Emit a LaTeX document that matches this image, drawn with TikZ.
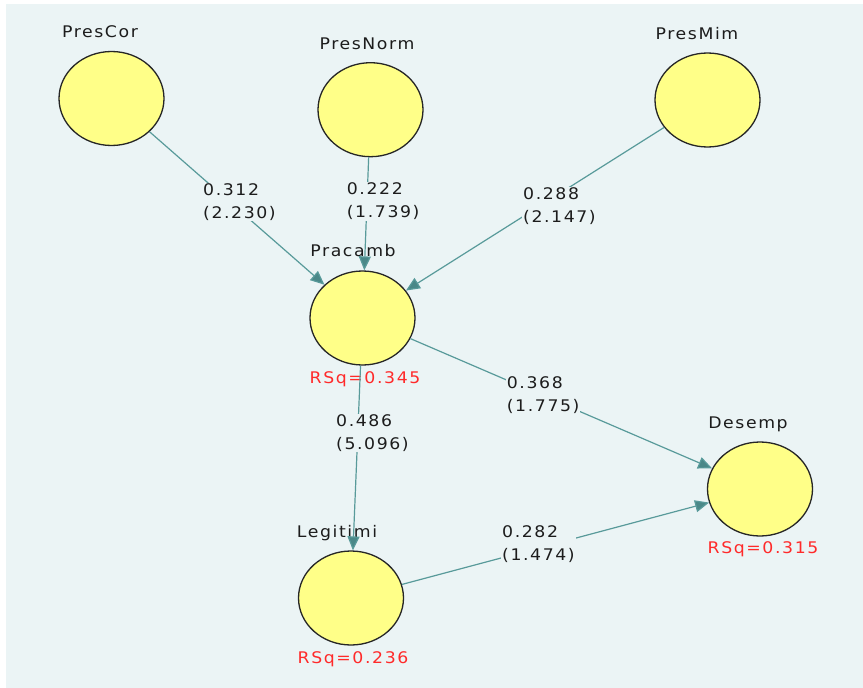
\documentclass[tikz,border=0pt]{standalone}
\usepackage{fontspec}
\setmainfont{DejaVu Sans}[FakeStretch=1.08,LetterSpace=10]
\usetikzlibrary{shapes.geometric,arrows.meta}
\definecolor{bgc}{HTML}{EBF4F5}
\definecolor{circfill}{HTML}{FFFF88}
\definecolor{edgec}{HTML}{589A9A}
\definecolor{tipc}{HTML}{4A8888}
\definecolor{rsqc}{HTML}{FF2A2A}
\definecolor{txtc}{HTML}{1C1C1C}
\begin{document}
\begin{tikzpicture}[x=1pt,y=-1pt,
  latent/.style={ellipse,draw=black!85,fill=circfill,line width=1.3pt,minimum width=105pt,minimum height=94pt,inner sep=0pt},
  lvname/.style={text=txtc,font=\fontsize{16}{23}\selectfont,inner sep=0pt,anchor=base},
  rsq/.style={text=rsqc,font=\fontsize{16}{23}\selectfont,inner sep=0pt,anchor=base},
  pathedge/.style={draw=edgec,line width=1.2pt,-{Triangle[length=14pt,width=12pt,fill=tipc]}},
  coef/.style={text=txtc,font=\fontsize{16}{23}\selectfont,align=left,anchor=west,fill=bgc,inner sep=1pt}]
\useasboundingbox (0,0) rectangle (863,688);
\fill[white] (0,0) rectangle (863,688);
\fill[bgc] (6,4) rectangle (863,688);

% latent variables
\node[latent] (cor) at (111.5,98.5) {};
\node[latent] (norm) at (370.5,109.7) {};
\node[latent] (mim) at (707.5,100) {};
\node[latent] (prac) at (362.5,318) {};
\node[latent] (des) at (760,489) {};
\node[latent] (leg) at (351,598) {};

% names
\node[lvname] (corlab) at (100,37) {PresCor};
\node[lvname] (normlab) at (367,49) {PresNorm};
\node[lvname] (mimlab) at (697,39) {PresMim};
\node[lvname] (praclab) at (353,256) {Pracamb};
\node[lvname] (deslab) at (748,428) {Desemp};
\node[lvname] (leglab) at (337,537) {Legitimi};

% R squared
\node[rsq] (pracrsq) at (365,383) {RSq=0.345};
\node[rsq] (desrsq) at (763,553) {RSq=0.315};
\node[rsq] (legrsq) at (353,663) {RSq=0.236};

% paths
\draw[pathedge] (cor) -- (prac);
\draw[pathedge] (norm) -- (prac);
\draw[pathedge] (mim) -- (prac);
\draw[pathedge] (prac) -- (des);
\draw[pathedge] (prac) -- (leg);
\draw[pathedge] (leg) -- (des);

% coefficients
\node[coef] (c1) at (202,202) {0.312\\(2.230)};
\node[coef] (c2) at (345.7,201.5) {0.222\\(1.739)};
\node[coef] (c3) at (522,206.5) {0.288\\(2.147)};
\node[coef] (c4) at (505.7,395) {0.368\\(1.775)};
\node[coef] (c5) at (335,433) {0.486\\(5.096)};
\node[coef] (c6) at (501,544.5) {0.282\\(1.474)};
\end{tikzpicture}
\end{document}
